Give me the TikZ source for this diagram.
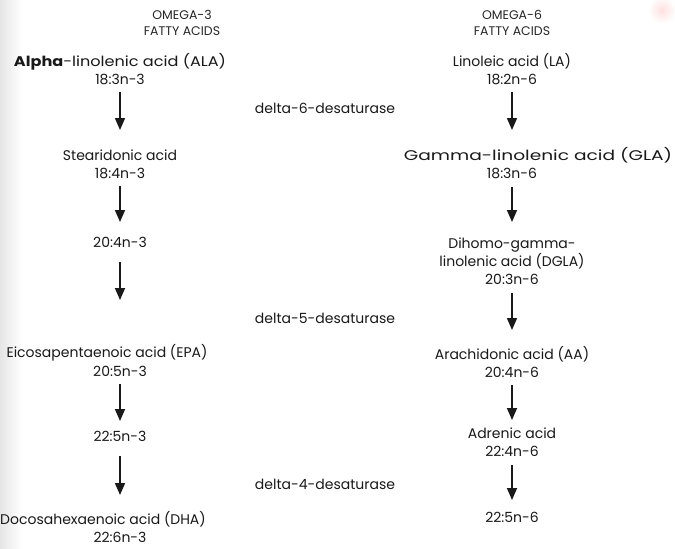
\documentclass[tikz,border=0pt]{standalone}
\usepackage{fontspec}
\setmainfont{Poppins}
\usetikzlibrary{arrows.meta}
\begin{document}
\begin{tikzpicture}[x=1pt,y=-1pt,
  lbl/.style={font=\fontsize{14}{18}\selectfont, align=center, inner sep=1pt, text=black!90},
  head/.style={font=\fontsize{12.5}{16}\selectfont, align=center, inner sep=1pt, text=black!85},
  enz/.style={font=\fontsize{14}{18}\selectfont, inner sep=1pt, text=black!90},
  conv/.style={-{Triangle[width=10pt,length=12pt]}, line width=1.6pt, black!90}]
\useasboundingbox (0,0) rectangle (675,549);
\fill[white] (0,0) rectangle (675,549);
\shade[left color=black!10, right color=white] (0,0) rectangle (22,549);
\shade[inner color=red!12, outer color=white] (662,10) circle (14);
% headers
\node[head] (h3) at (182,23) {OMEGA-3\\FATTY ACIDS};
\node[head] (h6) at (512,23) {OMEGA-6\\FATTY ACIDS};
% omega-3 column
\node[lbl] (ala) at (120,69) {\scalebox{1.15}[1]{\textbf{Alpha}-linolenic acid (ALA)}\\18:3n-3};
\node[lbl] (sda) at (120,164) {Stearidonic acid\\18:4n-3};
\node[lbl] (e203) at (120,242) {20:4n-3};
\node[lbl] (epa) at (107,353) {Eicosapentaenoic acid (EPA)};
\node[lbl] (epaf) at (120,371) {20:5n-3};
\node[lbl] (dpa3) at (120,436) {22:5n-3};
\node[lbl] (dha) at (103,519) {Docosahexaenoic acid (DHA)};
\node[lbl] (dhaf) at (120,537) {22:6n-3};
% omega-6 column
\node[lbl] (la) at (512,69) {Linoleic acid (LA)\\18:2n-6};
\node[lbl] (gla) at (538,155) {\scalebox{1.33}[1]{Gamma-linolenic acid (GLA)}};
\node[lbl] (glaf) at (512,173) {18:3n-6};
\node[lbl] (dgla) at (512,261) {Dihomo-gamma-\\linolenic acid (DGLA)\\20:3n-6};
\node[lbl] (aa) at (512,362) {Arachidonic acid (AA)\\20:4n-6};
\node[lbl] (adr) at (512,442) {Adrenic acid\\22:4n-6};
\node[lbl] (dpa6) at (512,517) {22:5n-6};
% enzymes
\node[enz] (d6) at (325,108) {delta-6-desaturase};
\node[enz] (d5) at (325,318) {delta-5-desaturase};
\node[enz] (d4) at (325,484) {delta-4-desaturase};
% arrows
\draw[conv] (ala.south |- 0,92) -- (sda.north |- 0,130);
\draw[conv] (sda.south |- 0,186) -- (e203.north |- 0,222);
\draw[conv] (e203.south |- 0,262) -- (epaf.north |- 0,300);
\draw[conv] (epaf.south |- 0,384) -- (dpa3.north |- 0,421);
\draw[conv] (dpa3.south |- 0,456) -- (dhaf.north |- 0,495);
\draw[conv] (la.south |- 0,92) -- (glaf.north |- 0,130);
\draw[conv] (glaf.south |- 0,187) -- (dgla.north |- 0,222);
\draw[conv] (dgla.south |- 0,293) -- (aa.north |- 0,330);
\draw[conv] (aa.south |- 0,385) -- (adr.north |- 0,420);
\draw[conv] (adr.south |- 0,465) -- (dpa6.north |- 0,500);
\end{tikzpicture}
\end{document}
